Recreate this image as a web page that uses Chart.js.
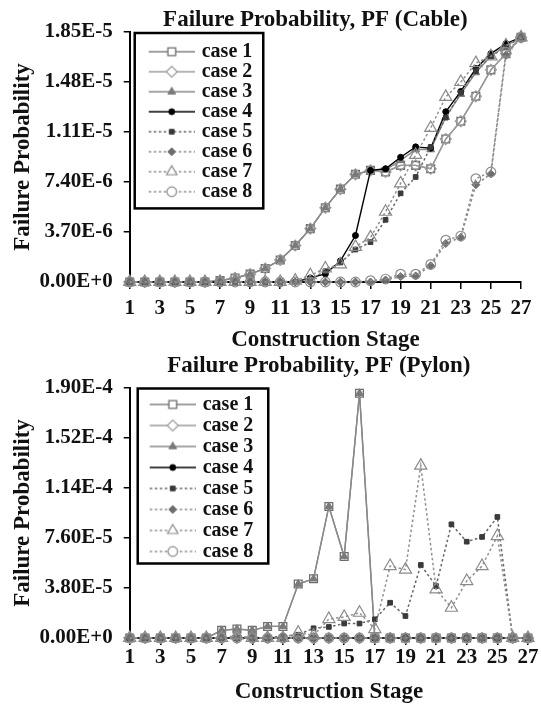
<!DOCTYPE html>
<html><head><meta charset="utf-8">
<script src="https://cdn.jsdelivr.net/npm/chart.js@4.4.0/dist/chart.umd.min.js"></script>
<style>
html,body{margin:0;padding:0;background:#fff;}
canvas{display:block;}
</style></head>
<body>
<canvas id="c1" width="541" height="353"></canvas>
<canvas id="c2" width="541" height="353"></canvas>
<script>
// ---------- data ----------
const stages = ['1','2','3','4','5','6','7','8','9','10','11','12','13','14','15','16','17','18','19','20','21','22','23','24','25','26','27'];
const caseLabels = ['case 1','case 2','case 3','case 4','case 5','case 6','case 7','case 8'];

const cableTickValues = [0, 3.7e-6, 7.4e-6, 1.11e-5, 1.48e-5, 1.85e-5];
const cableTickLabels = ['0.00E+0','3.70E-6','7.40E-6','1.11E-5','1.48E-5','1.85E-5'];
const pylonTickValues = [0, 3.8e-5, 7.6e-5, 1.14e-4, 1.52e-4, 1.9e-4];
const pylonTickLabels = ['0.00E+0','3.80E-5','7.60E-5','1.14E-4','1.52E-4','1.90E-4'];

// Cable
const cable1 = [0,0,0,0,0,0,1.0e-7,3.0e-7,5.8e-7,1.0e-6,1.63e-6,2.7e-6,3.95e-6,5.5e-6,6.87e-6,7.97e-6,8.26e-6,8.14e-6,8.63e-6,8.63e-6,8.38e-6,1.058e-5,1.19e-5,1.374e-5,1.57e-5,1.69e-5,1.81e-5];
const cable2 = [0,0,0,0,0,0,1.0e-7,3.0e-7,5.8e-7,1.0e-6,1.63e-6,2.7e-6,3.95e-6,5.5e-6,6.87e-6,7.97e-6,8.26e-6,8.14e-6,8.63e-6,8.63e-6,8.38e-6,1.058e-5,1.19e-5,1.374e-5,1.57e-5,1.69e-5,1.81e-5];
const cable3 = [0,0,0,0,0,0,1.0e-7,3.0e-7,5.8e-7,1.0e-6,1.63e-6,2.7e-6,3.95e-6,5.5e-6,6.87e-6,7.97e-6,8.26e-6,8.3e-6,9.0e-6,9.8e-6,9.8e-6,1.22e-5,1.39e-5,1.55e-5,1.67e-5,1.75e-5,1.81e-5];
const cable4 = [0,0,0,0,0,0,0,0,0,0,0,0,3e-7,6e-7,1.56e-6,3.44e-6,8.26e-6,8.38e-6,9.23e-6,1.0e-5,9.9e-6,1.26e-5,1.41e-5,1.58e-5,1.69e-5,1.764e-5,1.81e-5];
const cable5 = [0,0,0,0,0,0,0,0,0,0,0,0,2e-7,8e-7,1.44e-6,2.4e-6,2.95e-6,4.6e-6,6.56e-6,7.77e-6,1.0e-5,1.216e-5,1.40e-5,1.56e-5,1.67e-5,1.74e-5,1.81e-5];
const cable6 = [0,0,0,0,0,0,0,0,0,0,0,0,0,0,0,0,0,1.5e-7,4e-7,4.5e-7,1.2e-6,2.85e-6,3.3e-6,7.2e-6,8.0e-6,1.68e-5,1.81e-5];
const cable7 = [0,0,0,0,0,0,0,0,0,0,0,1e-7,5e-7,1.0e-6,1.3e-6,2.6e-6,3.3e-6,5.2e-6,7.3e-6,9.4e-6,1.14e-5,1.37e-5,1.48e-5,1.62e-5,1.67e-5,1.75e-5,1.81e-5];
const cable8 = [0,0,0,0,0,0,0,0,0,0,0,0,0,0,0,0,1e-7,2.2e-7,5.8e-7,5.8e-7,1.3e-6,3.1e-6,3.4e-6,7.65e-6,8.14e-6,1.70e-5,1.81e-5];

// Pylon
const pylon1 = [0,0,0,0,0,0,5.8e-6,6.8e-6,5.8e-6,8.8e-6,8.8e-6,4.1e-5,4.5e-5,1.0e-4,6.2e-5,1.86e-4,0,0,0,0,0,0,0,0,0,0,0];
const pylon2 = [0,0,0,0,0,0,0,0,0,0,0,0,0,0,0,0,0,0,0,0,0,0,0,0,0,0,0];
const pylon3 = [0,0,0,0,0,0,5.8e-6,6.8e-6,5.8e-6,8.8e-6,8.8e-6,4.1e-5,4.5e-5,1.0e-4,6.2e-5,1.86e-4,0,0,0,0,0,0,0,0,0,0,0];
const pylon4 = [0,0,0,0,0,0,0,0,0,0,0,0,0,0,0,0,0,0,0,0,0,0,0,0,0,0,0];
const pylon5 = [0,0,0,0,0,0,0,0,0,0,1.5e-6,2.5e-6,7.4e-6,8.4e-6,1.1e-5,1.1e-5,1.42e-5,2.68e-5,1.67e-5,5.55e-5,3.95e-5,8.64e-5,7.32e-5,7.68e-5,9.2e-5,0,0];
const pylon6 = [0,0,0,0,0,0,0,0,0,0,0,0,0,0,0,0,0,0,0,0,0,0,0,0,0,0,0];
const pylon7 = [0,0,0,0,0,0,0,2.0e-6,0,0,0,4.0e-6,2.0e-6,1.44e-5,1.6e-5,1.92e-5,6.8e-6,5.47e-5,5.2e-5,1.31e-4,3.7e-5,2.3e-5,4.33e-5,5.47e-5,7.75e-5,0,0];
const pylon8 = [0,0,0,0,0,0,0,0,0,0,0,0,0,0,0,0,0,0,0,0,0,0,0,0,0,0,0];

// ---------- styles ----------
const seriesStyles = [
 {line:'#808080', lw:1.4, dash:[], shape:'rect', r:5.5, fill:'rgba(255,255,255,0)', legendFill:'#fff', stroke:'#6e6e6e', bw:1.3},
 {line:'#9b9b9b', lw:1.4, dash:[], shape:'rectRot', r:5.5, fill:'rgba(255,255,255,0)', legendFill:'#fff', stroke:'#9b9b9b', bw:1.2},
 {line:'#8a8a8a', lw:1.4, dash:[], shape:'triangle', r:4.5, fill:'#7a7a7a', legendFill:'#7a7a7a', stroke:'#7a7a7a', bw:1},
 {line:'#000000', lw:1.4, dash:[], shape:'circle', r:3, fill:'#000', legendFill:'#000', stroke:'#000', bw:1},
 {line:'#666666', lw:1.5, dash:[2.5,2.5], shape:'rect', r:3.3, fill:'#3a3a3a', legendFill:'#3a3a3a', stroke:'#3a3a3a', bw:1},
 {line:'#8a8a8a', lw:1.5, dash:[2.5,2.5], shape:'rectRot', r:4, fill:'#6e6e6e', legendFill:'#6e6e6e', stroke:'#6e6e6e', bw:1},
 {line:'#8f8f8f', lw:1.5, dash:[2.5,2.5], shape:'triangle', r:7, fill:'rgba(255,255,255,0)', legendFill:'#fff', stroke:'#8a8a8a', bw:1.2},
 {line:'#8f8f8f', lw:1.5, dash:[2.5,2.5], shape:'circle', r:4.8, fill:'rgba(255,255,255,0)', legendFill:'#fff', stroke:'#8a8a8a', bw:1.2}
];

const FAMILY = "'Liberation Serif','Times New Roman',serif";
const TEXT = '#111';
const legendFont = {family: FAMILY, size: 20, weight: 'bold', lineHeight: 1};
const tickFont = {family: FAMILY, size: 21, weight: 'bold', lineHeight: 1};
const axisTitleFont = {family: FAMILY, size: 23, weight: 'bold', lineHeight: 1};
const chartTitleFont = {family: FAMILY, size: 23, weight: 'bold', lineHeight: 0.7};

Chart.defaults.font.family = FAMILY;
Chart.defaults.font.weight = 'bold';
Chart.defaults.color = TEXT;

function drawMarker(g, shape, r, x, y, fill, stroke, bw) {
  g.beginPath();
  if (shape === 'circle') {
    g.arc(x, y, r, 0, Math.PI * 2);
  } else if (shape === 'rect') {
    const s = Math.SQRT1_2 * r;
    g.rect(x - s, y - s, 2 * s, 2 * s);
  } else if (shape === 'rectRot') {
    g.moveTo(x - r, y); g.lineTo(x, y - r); g.lineTo(x + r, y); g.lineTo(x, y + r); g.closePath();
  } else if (shape === 'triangle') {
    let a = 0;
    g.moveTo(x + Math.sin(a) * r, y - Math.cos(a) * r);
    a += 2 * Math.PI / 3; g.lineTo(x + Math.sin(a) * r, y - Math.cos(a) * r);
    a += 2 * Math.PI / 3; g.lineTo(x + Math.sin(a) * r, y - Math.cos(a) * r);
    g.closePath();
  }
  g.fillStyle = fill; g.fill();
  g.lineWidth = bw; g.strokeStyle = stroke; g.stroke();
}

function legendIcon(st) {
  const c = document.createElement('canvas');
  c.width = 68; c.height = 18;
  const g = c.getContext('2d');
  const cy = 9;
  g.strokeStyle = st.line; g.lineWidth = st.lw; g.setLineDash(st.dash);
  g.beginPath(); g.moveTo(22, cy); g.lineTo(68, cy); g.stroke();
  g.setLineDash([]);
  drawMarker(g, st.shape, Math.min(st.r, 6), 45, cy, st.legendFill, st.stroke, st.bw);
  return c;
}
const legendIcons = seriesStyles.map(legendIcon);

function makeDatasets(series) {
  return series.map((vals, i) => {
    const st = seriesStyles[i];
    return {
      label: caseLabels[i],
      data: vals,
      borderColor: st.line,
      borderWidth: st.lw,
      borderDash: st.dash,
      pointStyle: st.shape,
      pointRadius: st.r,
      pointBackgroundColor: st.fill,
      pointBorderColor: st.stroke,
      pointBorderWidth: st.bw,
      tension: 0,
      fill: false,
      clip: false,
      order: 7 - i
    };
  });
}

const legendFrame = {
  id: 'legendFrame',
  afterDraw(chart, args, opts) {
    const boxes = chart.legend && chart.legend.legendHitBoxes;
    if (!boxes || !boxes.length) return;
    let l = Infinity, r = -Infinity, t = Infinity, b = -Infinity;
    boxes.forEach(h => {
      l = Math.min(l, h.left); r = Math.max(r, h.left + h.width);
      t = Math.min(t, h.top); b = Math.max(b, h.top + h.height);
    });
    const ctx = chart.ctx;
    ctx.save();
    ctx.lineWidth = 2.5; ctx.strokeStyle = '#000';
    const x0 = l + opts.dl, x1 = r + opts.dr, y0 = t - opts.dt, y1 = b + opts.db;
    ctx.strokeRect(x0, y0, x1 - x0, y1 - y0);
    ctx.restore();
  }
};

// shift the chart title slightly left of the plot-area centre, as in the original figure
const titleShift = {
  id: 'titleShift',
  afterLayout(chart, args, opts) {
    if (chart.titleBlock) chart.titleBlock.left -= opts.dx;
  }
};

function makeChart(id, cfg) {
  return new Chart(document.getElementById(id), {
    type: 'line',
    data: {labels: stages, datasets: makeDatasets(cfg.series)},
    plugins: [legendFrame, titleShift],
    options: {
      responsive: false,
      animation: false,
      devicePixelRatio: 1,
      events: [],
      layout: {padding: cfg.pad},
      plugins: {
        tooltip: {enabled: false},
        title: {display: true, text: cfg.title, fullSize: false, color: TEXT,
                font: chartTitleFont, padding: {top: 0, bottom: cfg.titleGap}},
        titleShift: {dx: 20},
        legend: {
          position: 'chartArea', align: 'start',
          title: {display: true, text: '', padding: {top: cfg.legendTop, bottom: 0}, font: {size: 1, lineHeight: 1}},
          labels: {
            usePointStyle: true, pointStyleWidth: 62, padding: cfg.legendPad,
            font: legendFont, color: TEXT,
            generateLabels: (chart) => chart.data.datasets.map((ds, i) => ({
              text: ds.label, pointStyle: legendIcons[i], datasetIndex: i,
              fillStyle: 'rgba(0,0,0,0)', strokeStyle: 'rgba(0,0,0,0)', lineWidth: 0,
              hidden: false, fontColor: TEXT
            }))
          }
        },
        legendFrame: cfg.frame
      },
      scales: {
        x: {
          type: 'category', offset: false,
          grid: {display: true, drawOnChartArea: false, drawTicks: true, tickLength: 7, lineWidth: 1.5,
                 color: c => (c.index % 2 === 0 ? '#000' : 'rgba(0,0,0,0)')},
          border: {display: true, color: '#000', width: 2},
          ticks: {autoSkip: false, maxRotation: 0, minRotation: 0, padding: cfg.xPad, color: TEXT, font: tickFont,
                  callback: (v, i) => (i % 2 === 0 ? stages[i] : '')},
          title: {display: true, text: 'Construction Stage', color: TEXT, font: axisTitleFont,
                  padding: {top: cfg.xTitleGap, bottom: 0}}
        },
        y: {
          type: 'linear', min: 0, max: cfg.yTicks[cfg.yTicks.length - 1],
          afterBuildTicks: s => { s.ticks = cfg.yTicks.map(v => ({value: v})); },
          grid: {display: true, drawOnChartArea: false, drawTicks: true, tickLength: 6, lineWidth: 1.5, color: '#000'},
          border: {display: true, color: '#000', width: 2},
          ticks: {padding: 11, color: TEXT, font: tickFont, callback: (v, i) => cfg.yLabels[i]},
          title: {display: true, text: 'Failure Probability', color: TEXT, font: axisTitleFont,
                  padding: {top: 7.5, bottom: -6}}
        }
      }
    }
  });
}

makeChart('c1', {
  series: [cable1, cable2, cable3, cable4, cable5, cable6, cable7, cable8],
  title: 'Failure Probability, PF (Cable)',
  yTicks: cableTickValues, yLabels: cableTickLabels,
  pad: {left: 4, right: 13, top: 12, bottom: 1.5},
  titleGap: 3.9, xPad: 9.5, xTitleGap: -0.5,
  legendTop: 40.7, legendPad: 0,
  frame: {dl: 5, dr: 11, dt: 8.7, db: 6.7}
});

makeChart('c2', {
  series: [pylon1, pylon2, pylon3, pylon4, pylon5, pylon6, pylon7, pylon8],
  title: 'Failure Probability, PF (Pylon)',
  yTicks: pylonTickValues, yLabels: pylonTickLabels,
  pad: {left: 4, right: 13, top: 5, bottom: 2.5},
  titleGap: 13.9, xPad: 2.5, xTitleGap: 9.5,
  legendTop: 39.5, legendPad: 1,
  frame: {dl: 7, dr: 15, dt: 6, db: 2}
});
</script>
</body></html>
